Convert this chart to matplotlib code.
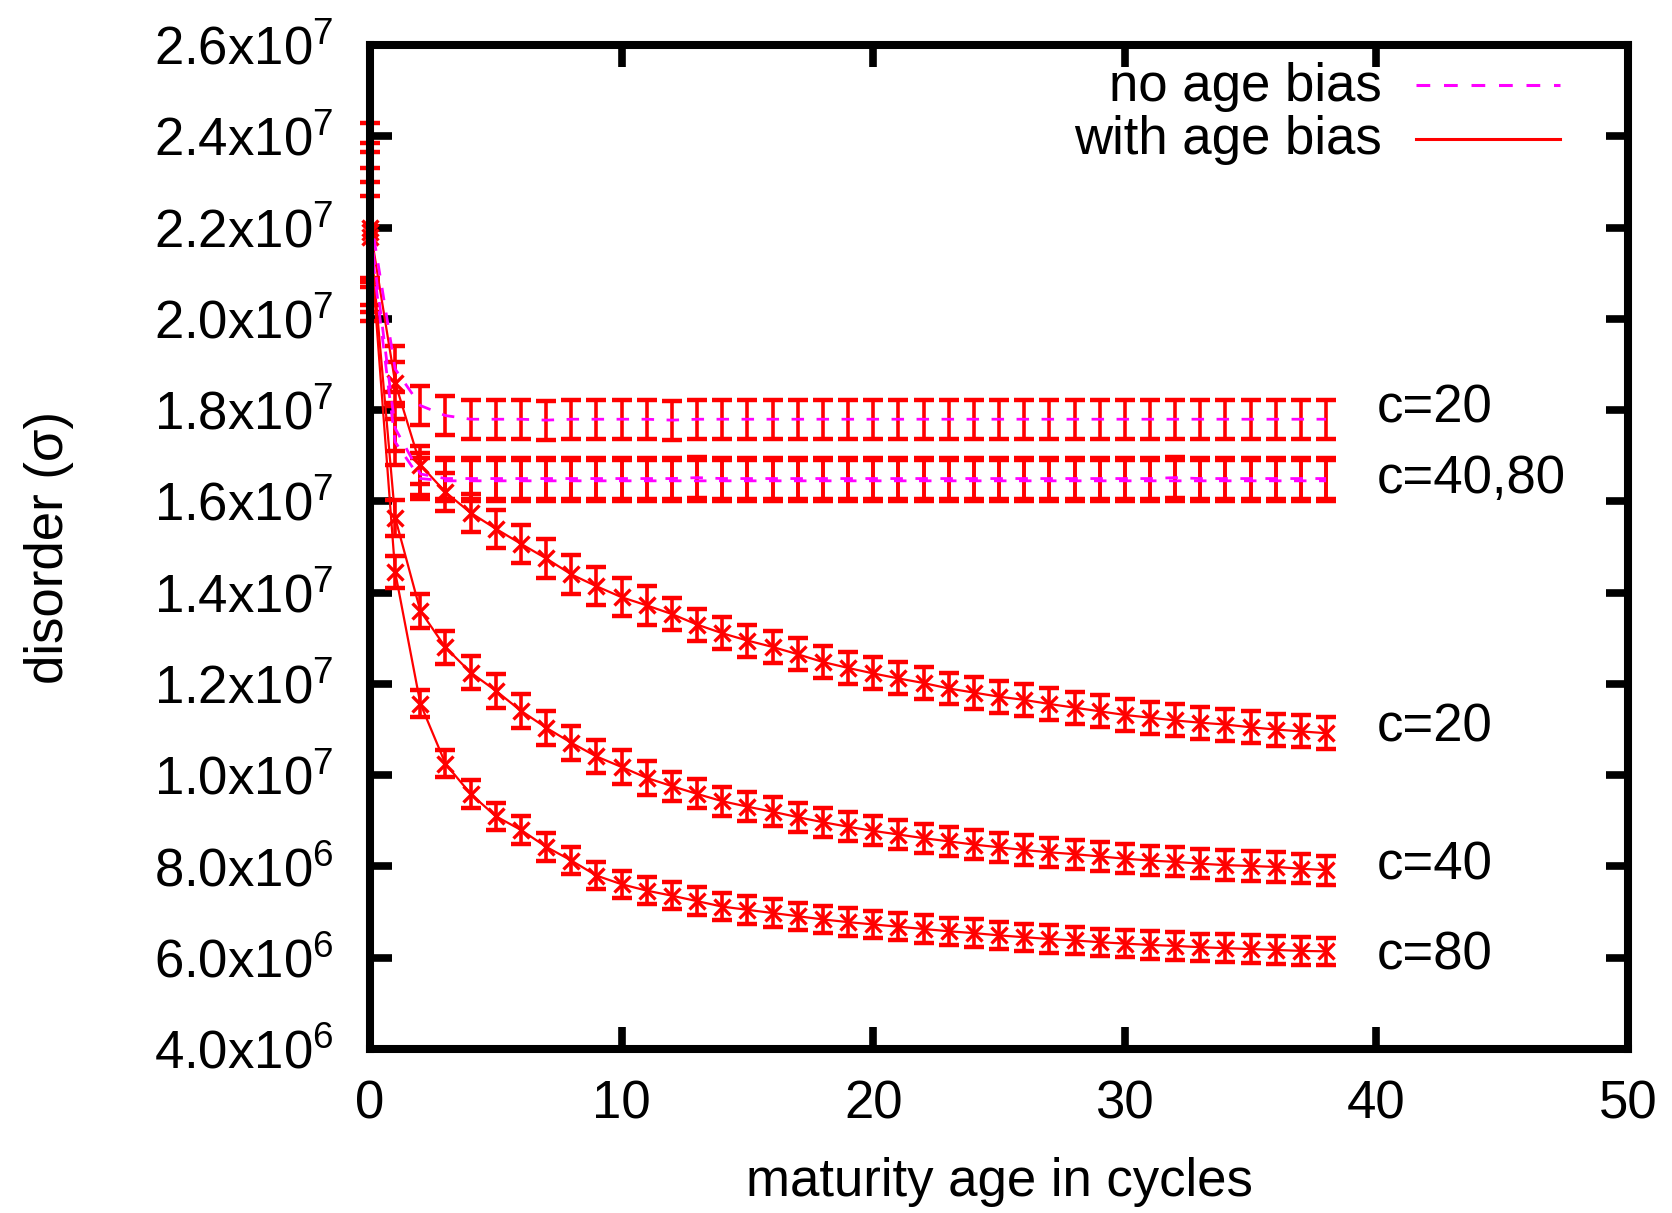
import numpy as np
import matplotlib
matplotlib.use('Agg')
import matplotlib.pyplot as plt
from matplotlib.ticker import FixedLocator, FixedFormatter

plt.rcParams['font.family'] = ['Liberation Sans', 'DejaVu Sans']
plt.rcParams['mathtext.fontset'] = 'custom'
plt.rcParams['mathtext.rm'] = 'Liberation Sans'
plt.rcParams['mathtext.it'] = 'Liberation Sans'
plt.rcParams['mathtext.bf'] = 'Liberation Sans'

# maturity age in cycles
age = list(range(39))

# disorder values in units of 1e6
nb20 = [22.3, 18.9, 18.1, 17.88, 17.8, 17.8, 17.8, 17.78, 17.8, 17.8,
        17.8, 17.8, 17.78, 17.8, 17.8, 17.8, 17.8, 17.8, 17.8, 17.8,
        17.8, 17.8, 17.8, 17.8, 17.8, 17.8, 17.8, 17.8, 17.8, 17.8,
        17.8, 17.8, 17.8, 17.8, 17.8, 17.8, 17.8, 17.8, 17.8]
nb40 = [22.0, 17.6, 16.6, 16.5, 16.5, 16.5, 16.5, 16.5, 16.5, 16.5,
        16.5, 16.5, 16.5, 16.52, 16.5, 16.5, 16.5, 16.5, 16.5, 16.5,
        16.5, 16.5, 16.5, 16.5, 16.5, 16.5, 16.5, 16.5, 16.5, 16.5,
        16.5, 16.5, 16.52, 16.5, 16.5, 16.5, 16.5, 16.5, 16.5]
nb80 = [21.8, 17.3, 16.5, 16.45, 16.45, 16.45, 16.45, 16.45, 16.45, 16.45,
        16.45, 16.45, 16.45, 16.45, 16.45, 16.45, 16.45, 16.45, 16.45, 16.45,
        16.45, 16.45, 16.45, 16.45, 16.45, 16.45, 16.45, 16.45, 16.45, 16.45,
        16.45, 16.45, 16.45, 16.45, 16.45, 16.45, 16.45, 16.45, 16.45]
wb20 = [22.0, 18.6, 16.8, 16.2, 15.75, 15.4, 15.07, 14.75, 14.4, 14.14,
        13.9, 13.72, 13.53, 13.3, 13.11, 12.95, 12.81, 12.65, 12.48, 12.35,
        12.23, 12.12, 12.02, 11.9, 11.81, 11.72, 11.65, 11.56, 11.48, 11.4,
        11.32, 11.26, 11.2, 11.15, 11.11, 11.05, 11.0, 10.96, 10.92]
wb40 = [21.9, 15.64, 13.6, 12.8, 12.25, 11.85, 11.41, 11.04, 10.71, 10.41,
        10.18, 9.94, 9.76, 9.59, 9.43, 9.31, 9.2, 9.08, 8.97, 8.87,
        8.78, 8.7, 8.62, 8.55, 8.48, 8.42, 8.36, 8.31, 8.27, 8.22,
        8.17, 8.13, 8.1, 8.06, 8.03, 8.01, 7.99, 7.95, 7.92]
wb80 = [21.8, 14.45, 11.57, 10.25, 9.59, 9.1, 8.8, 8.43, 8.13, 7.8,
        7.61, 7.47, 7.36, 7.24, 7.12, 7.05, 6.98, 6.91, 6.84, 6.78,
        6.73, 6.68, 6.63, 6.58, 6.54, 6.49, 6.45, 6.41, 6.38, 6.34,
        6.31, 6.28, 6.26, 6.23, 6.21, 6.19, 6.17, 6.15, 6.14]

# error bar half widths (1e6)
nb20_err = [2.0, 0.5] + [0.43] * 37
nb40_err = [1.85, 0.5] + [0.45] * 37
nb80_err = [1.85, 0.5] + [0.45] * 37
wb20_err = [1.3, 0.45] + [0.42] * 10 + [0.35] * 27
wb40_err = [1.1, 0.4] + [0.37] * 10 + [0.32] * 27
wb80_err = [0.9, 0.35] + [0.3] * 10 + [0.3] * 27

yticks = [4, 6, 8, 10, 12, 14, 16, 18, 20, 22, 24, 26]
ytick_labels = [r'4.0x10$^{6}$', r'6.0x10$^{6}$', r'8.0x10$^{6}$',
                r'1.0x10$^{7}$', r'1.2x10$^{7}$', r'1.4x10$^{7}$',
                r'1.6x10$^{7}$', r'1.8x10$^{7}$', r'2.0x10$^{7}$',
                r'2.2x10$^{7}$', r'2.4x10$^{7}$', r'2.6x10$^{7}$']
xticks = [0, 10, 20, 30, 40, 50]

curve_labels = ['c=20', 'c=40,80', 'c=20', 'c=40', 'c=80']
curve_label_y = [18.03, 16.49, 11.04, 8.03, 6.05]

RED = '#ff0000'
MAG = '#ff00ff'
FS = 38

fig = plt.figure(figsize=(16.72, 12.13), dpi=100)
ax = fig.add_axes([0.2213, 0.1352, 0.7524, 0.8277])

eb_kw = dict(fmt='none', ecolor=RED, elinewidth=2.6, capsize=7,
             capthick=3.2, clip_on=False, zorder=2)

for y, e in [(nb20, nb20_err), (nb40, nb40_err), (nb80, nb80_err)]:
    ax.errorbar(age, y, yerr=e, **eb_kw)
for y, e in [(wb20, wb20_err), (wb40, wb40_err), (wb80, wb80_err)]:
    ax.errorbar(age, y, yerr=e, **eb_kw)
    ax.plot(age, y, color=RED, lw=1.6, marker='x', ms=12, mew=2.4,
            clip_on=False, zorder=3)
for y in [nb20, nb40, nb80]:
    ax.plot(age, y, color=MAG, lw=2.0, dashes=(4.5, 4.5), clip_on=False,
            zorder=4)

for lab, yv in zip(curve_labels, curve_label_y):
    ax.text(40, yv, lab, fontsize=FS, ha='left', va='center')

# legend drawn like the gnuplot key
ax.text(0.8045, 0.958, 'no age bias', transform=ax.transAxes, fontsize=FS,
        ha='right', va='center')
ax.text(0.8045, 0.905, 'with age bias', transform=ax.transAxes, fontsize=FS,
        ha='right', va='center')
ax.plot([0.8315, 0.946], [0.960, 0.960], transform=ax.transAxes, color=MAG,
        lw=2.2, dashes=(4.5, 4.5))
ax.plot([0.8315, 0.946], [0.906, 0.906], transform=ax.transAxes, color=RED,
        lw=2.2)

ax.set_xlim(0, 50)
ax.set_ylim(4, 26)
ax.yaxis.set_major_locator(FixedLocator(yticks))
ax.yaxis.set_major_formatter(FixedFormatter(ytick_labels))
ax.set_xticks(xticks)
ax.tick_params(direction='in', length=16, width=5.5, top=True, right=True,
               labelsize=FS)
ax.tick_params(axis='x', pad=22)
ax.tick_params(axis='y', pad=26)
for sp in ax.spines.values():
    sp.set_linewidth(5.8)
    sp.set_zorder(5)

ax.set_xlabel('maturity age in cycles', fontsize=FS, labelpad=20)
ax.set_ylabel('disorder (σ)', fontsize=FS, labelpad=58)

fig.savefig('out.png', dpi=100)
